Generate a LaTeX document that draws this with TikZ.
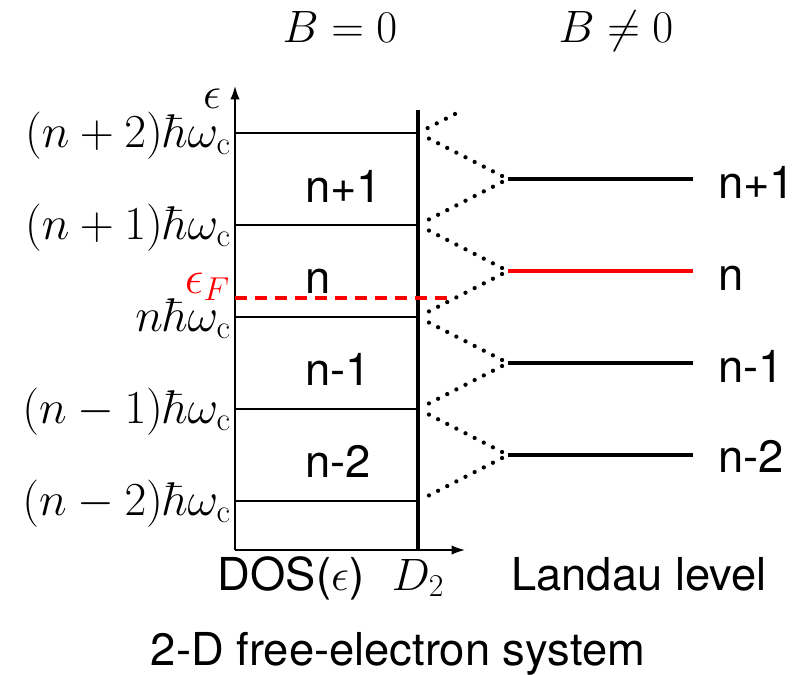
\RequirePackage{fix-cm}
\documentclass[tikz,border=0pt]{standalone}
\usepackage{fontspec}
\setsansfont{TeX Gyre Heros}
\usetikzlibrary{arrows.meta}
\begin{document}
\begin{tikzpicture}[x=0.75pt,y=-0.75pt,
  lab/.style={font=\fontsize{34}{40}\selectfont\sffamily, inner sep=0pt},
  mlab/.style={font=\fontsize{34}{40}\selectfont, inner sep=0pt},
  elab/.style={font=\fontsize{35.5}{42}\selectfont, inner sep=0pt, anchor=base east},
  thinline/.style={line width=1.2pt},
  thickline/.style={line width=2.5pt},
  axis/.style={line width=1.2pt, -{Latex[length=10pt,width=7pt]}},
  dotline/.style={line width=3.2pt, line cap=round, dash pattern=on 0pt off 7.7pt, shorten <=5pt, shorten >=6pt},
  fermi/.style={line width=2.5pt, red, dash pattern=on 9pt off 6pt},
  landau/.style={line width=2.5pt}]
\useasboundingbox (0,0) rectangle (805,674);
% axes
\coordinate (O) at (235,550);
\coordinate (ytip) at (235,86);
\coordinate (xtip) at (465,550);
\draw[axis] (O) -- (ytip);
\draw[axis] (O) -- (xtip);
% thick D2 line
\coordinate (dtop) at (418,110);
\coordinate (dbot) at (418,550);
\draw[thickline] (dbot) -- (dtop);
% boundaries
\foreach \i/\y in {0/133,1/225,2/317,3/409,4/501}{
  \coordinate (a\i) at (235,\y);
  \coordinate (b\i) at (418,\y);
  \draw[thinline] (a\i) -- (b\i);
}
% Landau levels
\foreach \i/\y in {1/179,2/271,3/363,4/455}{
  \coordinate (l\i) at (508,\y);
  \coordinate (r\i) at (693,\y);
}
\draw[landau] (l1) -- (r1);
\draw[landau,red] (l2) -- (r2);
\draw[landau] (l3) -- (r3);
\draw[landau] (l4) -- (r4);
% dotted fans
\coordinate (t) at (455,114);
\draw[dotline, shorten <=0pt] (t) -- (b0);
\draw[dotline] (l1) -- (b0);
\draw[dotline] (l1) -- (b1);
\draw[dotline] (l2) -- (b1);
\draw[dotline] (l2) -- (b2);
\draw[dotline] (l3) -- (b2);
\draw[dotline] (l3) -- (b3);
\draw[dotline] (l4) -- (b3);
\draw[dotline] (l4) -- (b4);
% Fermi level
\coordinate (f0) at (235,298);
\coordinate (f1) at (447,298);
\draw[fermi] (f0) -- (f1);
% left labels
\node[elab] (e2) at (231,147) {$(n+2)\hbar\omega_{\mathrm{c}}$};
\node[elab] (e1) at (231,239) {$(n+1)\hbar\omega_{\mathrm{c}}$};
\node[elab] (e0) at (231,331) {$n\hbar\omega_{\mathrm{c}}$};
\node[elab] (em1) at (231,423) {$(n-1)\hbar\omega_{\mathrm{c}}$};
\node[elab] (em2) at (231,515) {$(n-2)\hbar\omega_{\mathrm{c}}$};
\node[elab, text=red] (ef) at (230,293) {$\epsilon_F$};
\node[mlab, anchor=base] (eps) at (212,108) {$\epsilon$};
% band labels
\node[lab, anchor=base west] (k1) at (305,202) {n+1};
\node[lab, anchor=base west] (k0) at (305,293) {n};
\node[lab, anchor=base west] (km1) at (305,385) {n-1};
\node[lab, anchor=base west] (km2) at (305,477) {n-2};
% Landau labels
\node[lab, anchor=base west] (q1) at (718,198) {n+1};
\node[lab, anchor=base west] (q0) at (718,290) {n};
\node[lab, anchor=base west] (qm1) at (718,382) {n-1};
\node[lab, anchor=base west] (qm2) at (718,472) {n-2};
% titles
\node[mlab, anchor=base] (bz) at (340,43) {$B=0$};
\node[mlab, anchor=base] (bnz) at (616,43) {$B\neq0$};
\node[lab, anchor=base] (dos) at (291,590) {DOS($\epsilon$)};
\node[mlab, anchor=base] (d2) at (418,590) {$D_2$};
\node[lab, anchor=base] (ll) at (639,590) {Landau level};
\node[lab, anchor=base] (cap) at (398,665) {2-D free-electron system};
\end{tikzpicture}
\end{document}
